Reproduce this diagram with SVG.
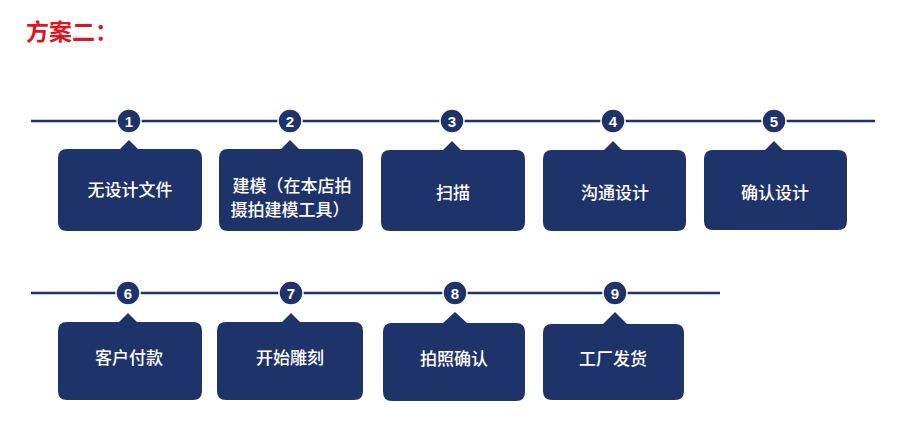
<svg xmlns="http://www.w3.org/2000/svg" width="912" height="428" viewBox="0 0 912 428">
<style>
.ln{stroke:#1f336b;stroke-width:2.5;fill:none}
.box{fill:#1f336b}
.num{fill:#1f336b;stroke:#ffffff;stroke-width:1.5}
.nt{fill:#fff;font-family:"Liberation Sans",Arial,sans-serif;font-weight:bold;font-size:15px;text-anchor:middle}
.bt{fill:#fff;font-family:"Noto Sans CJK SC","Noto Sans",sans-serif;font-weight:500;font-size:17px;text-anchor:middle}
.title{fill:#e3121b;font-family:"Noto Sans CJK SC",sans-serif;font-weight:bold;font-size:23px}
</style>
<rect width="912" height="428" fill="#ffffff"/>
<text class="title" x="26" y="40">方案二：</text>
<g id="connectors">
<line class="ln" x1="31" y1="121" x2="875" y2="121"/>
<line class="ln" x1="31" y1="293" x2="720" y2="293"/>
</g>
<g id="n1"><path class="box" d="M67 149 H120 L129 140 L138 149 H193 Q202 149 202 158 V222 Q202 231 193 231 H67 Q58 231 58 222 V158 Q58 149 67 149 Z"/><circle class="num" cx="129" cy="121" r="12"/><text class="nt" x="129" y="126.5">1</text><text class="bt" x="130" y="196">无设计文件</text></g>
<g id="n2"><path class="box" d="M228 149 H281 L290 140 L299 149 H354 Q363 149 363 158 V222 Q363 231 354 231 H228 Q219 231 219 222 V158 Q219 149 228 149 Z"/><circle class="num" cx="290" cy="121" r="12"/><text class="nt" x="290" y="126.5">2</text><text class="bt" x="292" y="192">建模（在本店拍</text><text class="bt" x="290" y="216">摄拍建模工具）</text></g>
<g id="n3"><path class="box" d="M390 150 H443 L452 141 L461 150 H516 Q525 150 525 159 V222 Q525 231 516 231 H390 Q381 231 381 222 V159 Q381 150 390 150 Z"/><circle class="num" cx="452" cy="121" r="12"/><text class="nt" x="452" y="126.5">3</text><text class="bt" x="453" y="199">扫描</text></g>
<g id="n4"><path class="box" d="M552 150 H604 L613 141 L622 150 H677 Q686 150 686 159 V222 Q686 231 677 231 H552 Q543 231 543 222 V159 Q543 150 552 150 Z"/><circle class="num" cx="613" cy="121" r="12"/><text class="nt" x="613" y="126.5">4</text><text class="bt" x="615" y="199">沟通设计</text></g>
<g id="n5"><path class="box" d="M713 150 H765 L774 141 L783 150 H838 Q847 150 847 159 V221 Q847 230 838 230 H713 Q704 230 704 221 V159 Q704 150 713 150 Z"/><circle class="num" cx="774" cy="121" r="12"/><text class="nt" x="774" y="126.5">5</text><text class="bt" x="775" y="199">确认设计</text></g>
<g id="n6"><path class="box" d="M67 322 H119 L128 313 L137 322 H193 Q202 322 202 331 V391 Q202 400 193 400 H67 Q58 400 58 391 V331 Q58 322 67 322 Z"/><circle class="num" cx="128" cy="293" r="12"/><text class="nt" x="128" y="298.5">6</text><text class="bt" x="129" y="364">客户付款</text></g>
<g id="n7"><path class="box" d="M226 322 H282 L291 313 L300 322 H354 Q363 322 363 331 V391 Q363 400 354 400 H226 Q217 400 217 391 V331 Q217 322 226 322 Z"/><circle class="num" cx="291" cy="293" r="12"/><text class="nt" x="291" y="298.5">7</text><text class="bt" x="290" y="364">开始雕刻</text></g>
<g id="n8"><path class="box" d="M392 323 H443 L455 312 L467 323 H516 Q525 323 525 332 V392 Q525 401 516 401 H392 Q383 401 383 392 V332 Q383 323 392 323 Z"/><circle class="num" cx="455" cy="293" r="12"/><text class="nt" x="455" y="298.5">8</text><text class="bt" x="454" y="365">拍照确认</text></g>
<g id="n9"><path class="box" d="M552 324 H603 L615 312 L627 324 H675 Q684 324 684 333 V391 Q684 400 675 400 H552 Q543 400 543 391 V333 Q543 324 552 324 Z"/><circle class="num" cx="615" cy="293" r="12"/><text class="nt" x="615" y="298.5">9</text><text class="bt" x="613" y="365">工厂发货</text></g>
</svg>
